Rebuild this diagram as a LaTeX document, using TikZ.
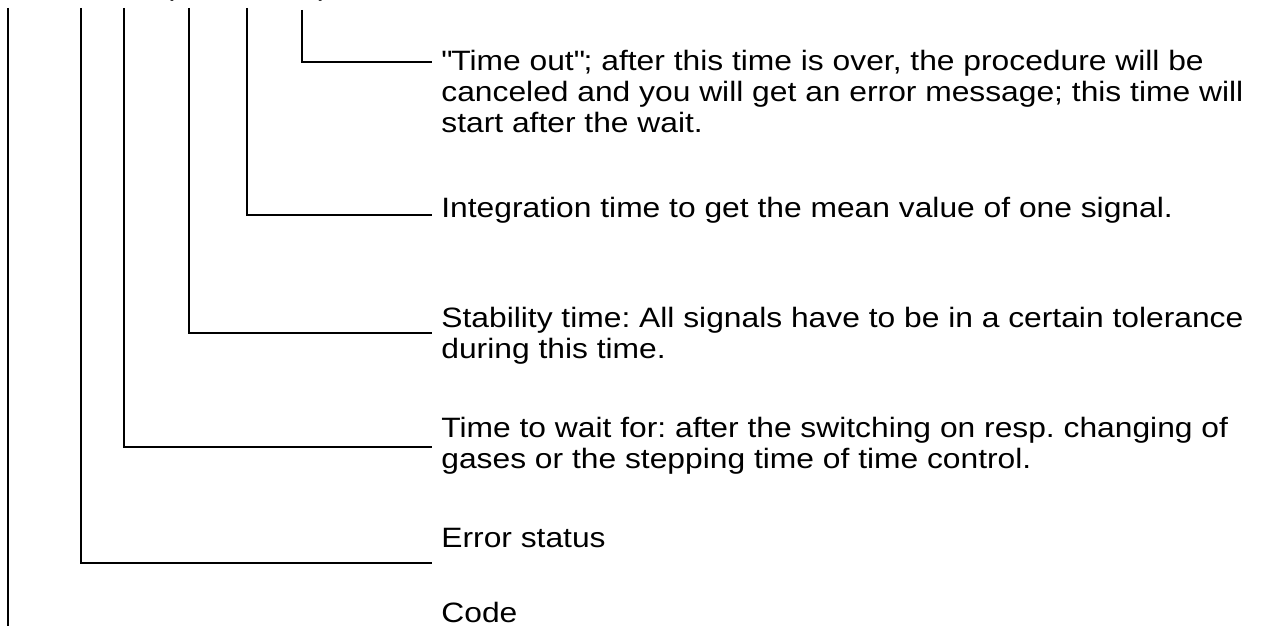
\documentclass[tikz,border=0pt]{standalone}
\usepackage{fontspec}
\setmainfont{Liberation Sans}[FakeStretch=1.135]
\usepackage{tikz}
\usetikzlibrary{positioning}
\frenchspacing

\begin{document}
\begin{tikzpicture}[
 x=0.5pt,y=-0.5pt,
 font=\fontsize{14}{15.5}\selectfont,
 desc/.style={anchor=base west,inner sep=0pt,align=left},
 lead/.style={draw=black,line width=.7pt}
]
 \useasboundingbox (0,0) rectangle (1262,626);
 \clip (0,0) rectangle (1262,626);
 % clipped call line at the top
 \node[desc] (lpar) at (163,-4) {(};
 \node[desc] (rpar) at (318,-4) {)};
 % descriptions (anchored at the baseline of their last line)
 \node[desc] (tout) at (441,133)
   {\textquotedbl Time out\textquotedbl; after this time is over, the procedure will be\\
    canceled and you will get an error message; this time will\\
    start after the wait.};
 \node[desc] (tint) at (441,217) {Integration time to get the mean value of one signal.};
 \node[desc] (tstab) at (441,358)
   {Stability time: All signals have to be in a certain tolerance\\
    during this time.};
 \node[desc] (twait) at (441,468)
   {Time to wait for: after the switching on resp. changing of\\
    gases or the stepping time of time control.};
 \node[desc] (err) at (441,547) {Error status};
 \node[desc] (code) at (441,622) {Code};
 % leader ends
 \coordinate (ecode) at (8,8);
 \coordinate (eerr) at (81,8);
 \coordinate (ewait) at (124,8);
 \coordinate (estab) at (189,8);
 \coordinate (eint) at (247,8);
 \coordinate (eout) at (302,10);
 \coordinate (hout) at (432,62);
 \coordinate (hint) at (432,215);
 \coordinate (hstab) at (432,333);
 \coordinate (hwait) at (432,447);
 \coordinate (herr) at (432,563);
 \coordinate (hcode) at (8,626);
 \draw[lead] (ecode) -- (hcode);
 \foreach \a/\b in {eerr/herr,ewait/hwait,estab/hstab,eint/hint,eout/hout}
   \draw[lead] (\a) |- (\b);
\end{tikzpicture}
\end{document}
